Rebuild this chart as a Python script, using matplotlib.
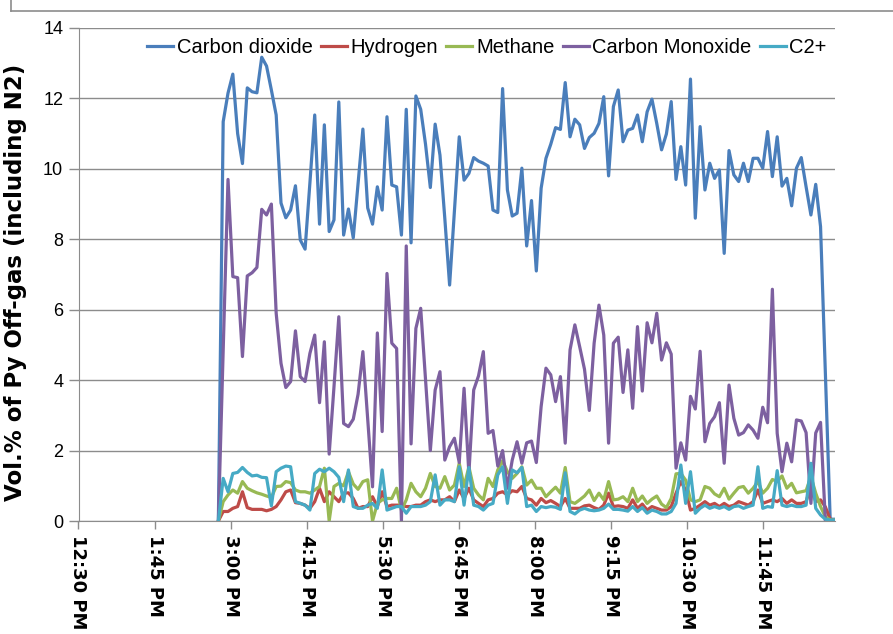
import numpy as np
import matplotlib
matplotlib.use("Agg")
import matplotlib.pyplot as plt
from matplotlib.lines import Line2D

# sampling: first reading 2:48 PM, one every ~4.75 min (minutes after midnight)
t_start = 888.0
t_step = 4.753

co2 = [0, 11.34, 12.15, 12.69, 11.0, 10.15, 12.3, 12.19, 12.16, 13.17, 12.92, 12.24, 11.53,
       9.03, 8.61, 8.83, 9.52, 7.98, 7.72, 9.6, 11.53, 8.43, 11.25, 8.22, 8.55,
       11.9, 8.12, 8.86, 8.04, 9.6, 11.13, 8.89, 8.43, 9.49, 8.83, 11.48, 9.54,
       9.49, 8.12, 11.69, 7.90, 12.07, 11.69, 10.7, 9.47, 11.27, 10.39, 8.6, 6.7,
       8.8, 10.91, 9.68, 9.87, 10.32, 10.22, 10.16, 10.08, 8.83, 8.76, 12.28, 9.40,
       8.66, 8.74, 10.02, 7.81, 9.10, 7.1, 9.45, 10.30, 10.7, 11.17, 11.12, 12.45,
       10.91, 11.41, 11.25, 10.58, 10.89, 11.01, 11.29, 12.05, 9.80, 11.77, 12.24, 10.77,
       11.10, 11.15, 11.53, 10.77, 11.62, 11.98, 11.29, 10.54, 10.99, 11.91, 9.70, 10.63,
       9.54, 12.55, 8.6, 11.2, 9.40, 10.16, 9.73, 9.97, 7.60, 10.52, 9.83, 9.64,
       10.16, 9.64, 10.30, 10.30, 10.02, 11.06, 9.78, 10.91, 9.51, 9.73, 8.95, 10.02,
       10.32, 9.49, 8.69, 9.56, 8.36, 4.2, 0.05, 0.05]

h2 = [0, 0.27, 0.27, 0.36, 0.41, 0.83, 0.38, 0.33, 0.33, 0.33, 0.29, 0.33,
      0.41, 0.60, 0.83, 0.88, 0.52, 0.50, 0.45, 0.36, 0.55, 0.93, 0.55, 0.83,
      0.69, 0.55, 0.79, 0.80, 0.64, 0.36, 0.41, 0.41, 0.69, 0.41, 0.83, 0.41,
      0.45, 0.45, 0.45, 0.41, 0.41, 0.45, 0.45, 0.55, 0.60, 0.55, 0.60, 0.60,
      0.69, 0.55, 0.88, 0.64, 0.93, 0.60, 0.50, 0.41, 0.60, 0.64, 0.79, 0.83,
      0.74, 0.86, 0.83, 0.98, 0.64, 0.60, 0.45, 0.64, 0.52, 0.58, 0.50, 0.41,
      0.64, 0.36, 0.36, 0.36, 0.43, 0.45, 0.38, 0.33, 0.45, 0.79, 0.41, 0.43,
      0.41, 0.36, 0.60, 0.36, 0.48, 0.31, 0.41, 0.36, 0.31, 0.31, 0.41, 0.79,
      1.12, 0.88, 0.31, 0.36, 0.45, 0.55, 0.45, 0.50, 0.41, 0.50, 0.41, 0.45,
      0.55, 0.50, 0.45, 0.55, 0.88, 0.50, 0.55, 0.60, 0.55, 0.64, 0.50, 0.60,
      0.50, 0.50, 0.55, 1.0, 0.55, 0.60, 0.40, 0.05, 0.03]

ch4 = [0, 0.55, 0.74, 0.88, 0.79, 1.12, 0.93, 0.86, 0.80, 0.76, 0.71, 0.67,
       0.98, 0.99, 1.12, 1.09, 0.88, 0.83, 0.83, 0.79, 0.88, 0.98, 1.5, 0.0,
       0.98, 1.07, 1.0, 1.40, 1.05, 0.9, 1.12, 1.17, 0.0, 0.50, 0.60, 0.64,
       0.64, 0.93, 0.31, 0.6, 1.07, 0.83, 0.69, 0.93, 1.35, 0.98, 0.93, 1.26,
       0.88, 1.02, 1.64, 0.98, 1.54, 0.93, 0.74, 0.60, 1.21, 0.98, 1.45, 1.71,
       1.40, 1.21, 1.35, 1.54, 1.02, 1.16, 0.93, 0.93, 0.69, 0.83, 0.96, 0.79,
       1.52, 0.55, 0.50, 0.60, 0.71, 0.88, 0.58, 0.79, 0.60, 1.12, 0.60, 0.62,
       0.69, 0.55, 0.93, 0.55, 0.71, 0.50, 0.62, 0.71, 0.48, 0.38, 0.64, 1.34,
       1.35, 1.16, 0.60, 0.55, 0.60, 0.98, 0.93, 0.77, 0.69, 0.93, 0.62, 0.79,
       0.95, 0.98, 0.79, 0.93, 1.12, 0.79, 0.93, 1.18, 1.12, 1.28, 0.93, 1.07,
       0.80, 0.83, 0.86, 1.26, 0.79, 0.41, 0.12, 0.03, 0.03]

co = [0, 4.9, 9.70, 6.94, 6.91, 4.67, 6.96, 7.05, 7.20, 8.85, 8.69, 9.0, 5.90, 4.48,
      3.79, 3.96, 5.40, 4.10, 3.96, 4.76, 5.28, 3.36, 5.09, 1.90, 3.81, 5.80,
      2.77, 2.68, 2.89, 3.6, 4.81, 2.9, 0.97, 5.34, 2.54, 7.03, 5.05, 4.90,
      0.0, 7.81, 2.19, 5.47, 6.04, 4.0, 2.0, 3.72, 4.24, 1.73, 2.11, 2.35,
      1.66, 3.77, 1.35, 3.72, 4.12, 4.81, 2.49, 2.57, 1.56, 2.0, 0.93, 1.73,
      2.25, 1.64, 2.22, 2.27, 1.66, 3.25, 4.34, 4.15, 3.39, 4.10, 2.21, 4.86,
      5.57, 4.95, 4.31, 3.14, 5.05, 6.13, 5.28, 2.21, 5.05, 5.22, 3.65, 4.86,
      3.20, 5.52, 3.69, 5.63, 5.06, 5.90, 4.57, 5.06, 4.74, 1.50, 2.22, 1.73,
      3.54, 3.18, 4.82, 2.25, 2.77, 2.96, 3.36, 1.64, 3.86, 2.92, 2.44, 2.51,
      2.73, 2.58, 2.35, 3.23, 2.79, 6.58, 2.49, 1.40, 2.21, 1.68, 2.87, 2.84,
      2.51, 0.5, 2.5, 2.8, 0.0, 0.0, 0.0]

c2plus = [0, 1.21, 0.83, 1.35, 1.38, 1.52, 1.38, 1.28, 1.30, 1.24, 1.23, 0.43,
          1.40, 1.50, 1.56, 1.54, 0.55, 0.50, 0.45, 0.31, 1.35, 1.47, 1.40, 1.50,
          1.40, 1.24, 0.55, 1.45, 0.41, 0.36, 0.36, 0.45, 0.50, 0.36, 1.45, 0.31,
          0.36, 0.41, 0.41, 0.22, 0.41, 0.41, 0.41, 0.45, 0.55, 1.31, 0.45, 0.60,
          0.60, 0.55, 1.54, 0.45, 1.52, 0.45, 0.41, 0.31, 0.45, 0.50, 1.31, 1.54,
          0.50, 1.45, 1.37, 1.52, 0.41, 0.45, 0.27, 0.41, 0.38, 0.41, 0.39, 0.33,
          1.37, 0.27, 0.20, 0.31, 0.36, 0.31, 0.29, 0.31, 0.36, 0.48, 0.33, 0.33,
          0.31, 0.28, 0.41, 0.27, 0.38, 0.22, 0.31, 0.27, 0.20, 0.20, 0.27, 0.50,
          1.59, 0.50, 1.40, 0.22, 0.36, 0.45, 0.36, 0.41, 0.36, 0.41, 0.33, 0.41,
          0.43, 0.36, 0.41, 0.45, 1.54, 0.36, 0.41, 0.39, 1.43, 0.45, 0.41, 0.45,
          0.41, 0.41, 0.45, 1.64, 0.36, 0.17, 0.05, 0.03, 0.03]

series = [
    ("Carbon dioxide", co2, "#4A7EBB"),
    ("Hydrogen", h2, "#BE4B48"),
    ("Methane", ch4, "#98B954"),
    ("Carbon Monoxide", co, "#7D60A0"),
    ("C2+", c2plus, "#46AAC5"),
]

x_min = 750          # 12:30 PM
tick_step = 75       # minutes
n_ticks = 10


def fmt_time(m):
    h = int(m // 60) % 24
    mm = int(m % 60)
    ampm = "AM" if h < 12 else "PM"
    h12 = h % 12
    if h12 == 0:
        h12 = 12
    return f"{h12}:{mm:02d} {ampm}"


t = t_start + t_step * np.arange(len(co2))

fig = plt.figure(figsize=(8.93, 6.34), dpi=100)
ax = fig.add_axes([78.5 / 893, 1 - 521 / 634, (835 - 78.5) / 893, 493 / 634])

# draw order: CO2 behind, C2+ on top
for name, vals, col in series:
    ax.plot(t, vals, color=col, lw=2.3, label=name, solid_joinstyle="round")

ax.set_xlim(x_min, t[-1])
ax.set_ylim(0, 14)
ax.set_yticks(np.arange(0, 15, 2))
ax.yaxis.grid(True, color="#8c8c8c", lw=1.0)
ax.set_axisbelow(True)

ticks = [x_min + tick_step * k for k in range(n_ticks)]
ax.set_xticks(ticks)
ax.set_xticklabels([fmt_time(v) for v in ticks], rotation=270,
                   fontsize=13, fontweight="bold", family="DejaVu Sans",
                   va="top", ha="center")

for lab in ax.get_yticklabels():
    lab.set_family("Liberation Sans")
    lab.set_fontsize(13)

ax.tick_params(axis="y", length=7, width=1, color="#8c8c8c", pad=4)
ax.tick_params(axis="x", length=6, width=1, color="#8c8c8c", pad=4)

for s in ("top", "right"):
    ax.spines[s].set_visible(False)
ax.spines["left"].set_color("#8c8c8c")
ax.spines["bottom"].set_color("#8c8c8c")

ax.set_ylabel("Vol.% of Py Off-gas (including N2)", fontsize=16.5,
              fontweight="bold", family="DejaVu Sans")
ax.yaxis.set_label_coords(-0.068, 0.485)

leg = ax.legend(loc="center", bbox_to_anchor=(0.54, 0.96), ncol=5, frameon=False,
                prop={"family": "Liberation Sans", "size": 14.5},
                handlelength=1.3, handletextpad=0.18, columnspacing=0.4)

# remnant frame border at top of image
fig.add_artist(Line2D([11 / 893, 1], [1 - 11 / 634, 1 - 11 / 634],
                      color="#8c8c8c", lw=1.2, transform=fig.transFigure))
fig.add_artist(Line2D([11 / 893, 11 / 893], [1, 1 - 11 / 634],
                      color="#8c8c8c", lw=1.2, transform=fig.transFigure))

plt.savefig("out.png", dpi=100)
plt.close()
